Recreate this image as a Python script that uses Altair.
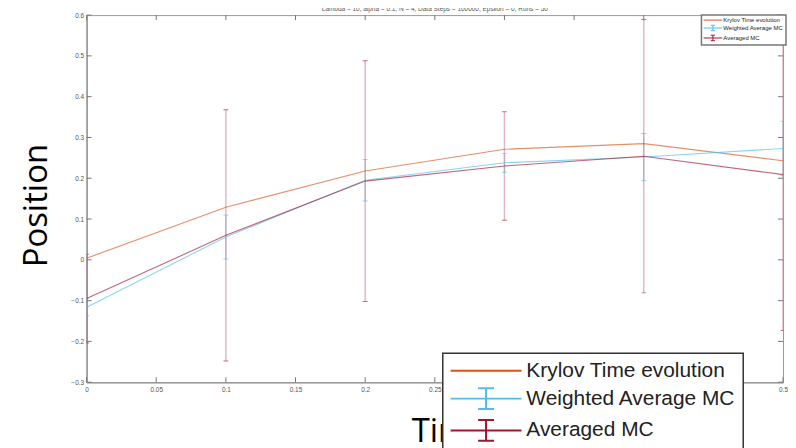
import altair as alt
import pandas as pd

# ---------------- data ----------------
x_vals = [0.0, 0.1, 0.2, 0.3, 0.4, 0.5]
krylov = [0.004, 0.129, 0.218, 0.271, 0.285, 0.243]
weighted = [-0.116, 0.056, 0.195, 0.238, 0.252, 0.273]
weighted_err = [0.021, 0.054, 0.051, 0.023, 0.058, 0.067]
averaged = [-0.095, 0.060, 0.193, 0.230, 0.254, 0.209]
averaged_err = [0.109, 0.308, 0.295, 0.133, 0.335, 0.382]

series_names = ["Krylov Time evolution", "Weighted Average MC", "Averaged MC"]
series_colors = ["#D95319", "#4DBEEE", "#A2142F"]

x_ticks = [0, 0.05, 0.1, 0.15, 0.2, 0.25, 0.3, 0.35, 0.4, 0.45, 0.5]
y_ticks = [-0.3, -0.2, -0.1, 0, 0.1, 0.2, 0.3, 0.4, 0.5, 0.6]

title_text = "Lambda = 10, alpha = 0.1, N = 4, Data Steps = 100000, Epsilon = 0, Runs = 50"
x_title = "Time"
y_title = "Position"

# ---------------- tables ----------------
rows = []
for name, vals, errs in [
    (series_names[0], krylov, None),
    (series_names[1], weighted, weighted_err),
    (series_names[2], averaged, averaged_err),
]:
    for i, (xv, yv) in enumerate(zip(x_vals, vals)):
        e = errs[i] if errs is not None else None
        rows.append({
            "x": xv, "y": yv, "series": name,
            "order": series_names.index(name),
            "lo": yv - e if e is not None else None,
            "hi": yv + e if e is not None else None,
        })
df = pd.DataFrame(rows)
df_err = df.dropna(subset=["lo"]).copy()

# the small (inset) legend uses the same names; a trailing space keeps its
# domain distinct so that Vega-Lite does not merge the two legends
small_names = [n + " " for n in series_names]
df_leg = pd.DataFrame({"series": series_names, "series2": small_names,
                       "x": [0.0] * 3, "y": [0.0] * 3})
df_yt = pd.DataFrame({"v": y_ticks})
df_xt = pd.DataFrame({"v": x_ticks})

# legend glyphs (unit = half the symbol size)
plain_path = "M-3.75,0H3.75"
ebar_path = "M-3.75,0H3.75M0,-1.1V1.1M-0.84,-1.1H0.84M-0.84,1.1H0.84"
shape_range = [plain_path, ebar_path, ebar_path]

xscale = alt.Scale(domain=[0, 0.5], nice=False, zero=False)
yscale = alt.Scale(domain=[-0.3, 0.6], nice=False, zero=False)


def cscale():
    return alt.Scale(domain=series_names, range=series_colors)


x_axis = alt.Axis(
    values=x_ticks, tickSize=0, format="~g", labelFlush=False, grid=False,
    labelPadding=4, title=x_title, titleX=364, titleY=60,
    titleBaseline="alphabetic",
)
y_axis = alt.Axis(
    values=y_ticks, tickSize=0, format="~g", labelFlush=False, grid=False,
    labelPadding=3, title=y_title, titleX=-40, titleY=191,
    titleBaseline="alphabetic",
)

# layer that carries the axes (invisible points)
axis_holder = alt.Chart(df).mark_point(opacity=0).encode(
    x=alt.X("x:Q", scale=xscale, axis=x_axis),
    y=alt.Y("y:Q", scale=yscale, axis=y_axis),
)

# error bars
err_rules = alt.Chart(df_err).mark_rule(strokeWidth=1.5, opacity=0.3, clip=True).encode(
    x=alt.X("x:Q", scale=xscale),
    y=alt.Y("lo:Q", scale=yscale),
    y2="hi:Q",
    color=alt.Color("series:N", scale=cscale(), legend=None),
    order=alt.Order("order:Q"),
)
err_lo = alt.Chart(df_err).mark_tick(orient="horizontal", size=5, thickness=1,
                                     opacity=0.6, clip=True).encode(
    x=alt.X("x:Q", scale=xscale),
    y=alt.Y("lo:Q", scale=yscale),
    color=alt.Color("series:N", scale=cscale(), legend=None),
)
err_hi = alt.Chart(df_err).mark_tick(orient="horizontal", size=5, thickness=1,
                                     opacity=0.6, clip=True).encode(
    x=alt.X("x:Q", scale=xscale),
    y=alt.Y("hi:Q", scale=yscale),
    color=alt.Color("series:N", scale=cscale(), legend=None),
)

lines = alt.Chart(df).mark_line(strokeWidth=1.1, opacity=0.65, clip=True).encode(
    x=alt.X("x:Q", scale=xscale),
    y=alt.Y("y:Q", scale=yscale),
    color=alt.Color("series:N", scale=cscale(), legend=None),
    detail="series:N",
    order=alt.Order("x:Q"),
)

# inward ticks (MATLAB style) on all four sides
tick_col = "#777"
t_left = alt.Chart(df_yt).mark_rule(color=tick_col, strokeWidth=1).encode(
    y=alt.Y("v:Q", scale=yscale), x=alt.value(0), x2=alt.value(5))
t_right = alt.Chart(df_yt).mark_rule(color=tick_col, strokeWidth=1).encode(
    y=alt.Y("v:Q", scale=yscale), x=alt.value(695), x2=alt.value(700))
t_bottom = alt.Chart(df_xt).mark_rule(color=tick_col, strokeWidth=1).encode(
    x=alt.X("v:Q", scale=xscale), y=alt.value(369), y2=alt.value(364))
t_top = alt.Chart(df_xt).mark_rule(color=tick_col, strokeWidth=1).encode(
    x=alt.X("v:Q", scale=xscale), y=alt.value(0), y2=alt.value(5))

big_legend = alt.Legend(
    title=None, orient="none", legendX=358, legendY=340,
    padding=7, fillColor="white", strokeColor="#333",
    symbolSize=361, symbolStrokeWidth=2, symbolOffset=26,
    labelFont="Liberation Sans", labelFontSize=21, labelColor="#222",
    labelOffset=30, rowPadding=3, labelLimit=400, zindex=2,
)
leg_big = alt.Chart(df_leg).mark_point(opacity=0, filled=False).encode(
    x=alt.X("x:Q", scale=xscale),
    y=alt.Y("y:Q", scale=yscale),
    color=alt.Color("series:N", scale=cscale(), legend=big_legend),
    shape=alt.Shape("series:N", scale=alt.Scale(domain=series_names, range=shape_range),
                    legend=big_legend),
)

small_legend = alt.Legend(
    title=None, orient="none", legendX=618, legendY=0,
    padding=2, fillColor="white", strokeColor="#777",
    symbolSize=25, symbolStrokeWidth=1, symbolOffset=6.5,
    labelFont="Liberation Sans", labelFontSize=6, labelColor="#222",
    labelOffset=7.5, rowPadding=0, labelLimit=200, zindex=2,
)
leg_small = alt.Chart(df_leg).mark_point(opacity=0, filled=False).encode(
    x=alt.X("x:Q", scale=xscale),
    y=alt.Y("y:Q", scale=yscale),
    color=alt.Color("series2:N", scale=alt.Scale(domain=small_names, range=series_colors),
                    legend=small_legend),
    shape=alt.Shape("series2:N", scale=alt.Scale(domain=small_names, range=shape_range),
                    legend=small_legend),
)

chart = alt.layer(
    axis_holder, err_rules, err_lo, err_hi, lines,
    t_left, t_right, t_bottom, t_top, leg_big, leg_small,
).resolve_scale(
    color="independent", shape="independent"
).properties(
    width=700, height=369,
    autosize=alt.AutoSizeParams(type="none"),
    padding={"left": 79, "top": 6, "right": 5, "bottom": 65},
    title=alt.TitleParams(text=title_text, fontSize=6.5, font="Liberation Sans",
                          color="#555", fontWeight="normal", offset=0, anchor="middle"),
    background="white",
).configure_view(
    stroke="#999", strokeWidth=1
).configure_legend(
    strokeWidth=1.5
).configure_axis(
    labelFont="Liberation Sans", labelFontSize=6.5, labelColor="#555",
    labelOverlap=False, domainColor="#999", domainWidth=1.5, grid=False,
    titleFont="Open Sans", titleFontSize=33, titleFontWeight="normal",
    titleColor="#000",
)

chart.save("out.html", embed_options={"renderer": "svg", "actions": False})
